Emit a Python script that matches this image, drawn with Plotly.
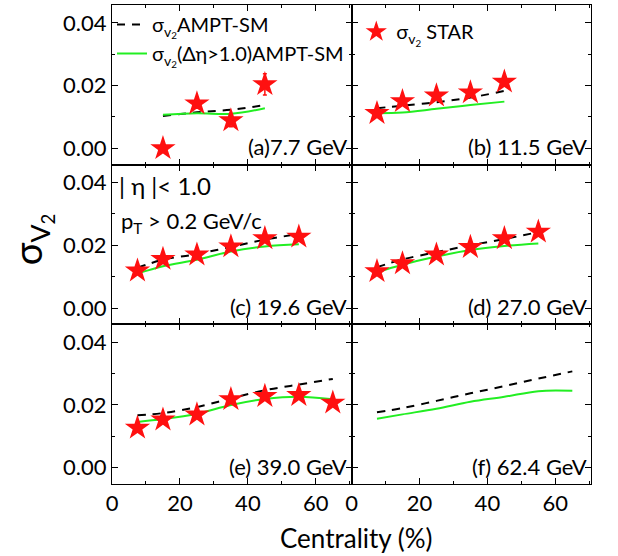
import plotly.graph_objects as go
from plotly.subplots import make_subplots

FONT = "Lato"

# ---------------- data ----------------
panel_labels = ["(a)7.7 GeV", "(b) 11.5 GeV", "(c) 19.6 GeV", "(d) 27.0 GeV", "(e) 39.0 GeV", "(f) 62.4 GeV"]

# AMPT-SM sigma_v2 (dashed)
ampt_x = [
    [15, 25, 35, 45],
    [7.5, 15, 25, 35, 45],
    [7.5, 15, 25, 35, 45, 55],
    [7.5, 15, 25, 35, 45, 55],
    [7.5, 15, 25, 35, 45, 55, 65],
    [7.5, 15, 25, 35, 45, 55, 65],
]
ampt_y = [
    [0.0103, 0.0115, 0.0123, 0.0138],
    [0.0128, 0.0136, 0.0147, 0.0162, 0.0183],
    [0.0128, 0.0154, 0.0172, 0.0195, 0.0218, 0.0236],
    [0.0130, 0.0155, 0.0178, 0.0200, 0.0220, 0.0242],
    [0.0167, 0.0174, 0.0193, 0.0221, 0.0247, 0.0265, 0.0283],
    [0.0177, 0.0190, 0.0213, 0.0237, 0.0260, 0.0284, 0.0307],
]
# AMPT-SM sigma_v2 (Delta eta > 1.0) (green)
gap_y = [
    [0.0107, 0.0112, 0.0110, 0.0128],
    [0.0112, 0.0114, 0.0126, 0.0138, 0.0149],
    [0.0110, 0.0133, 0.0154, 0.0180, 0.0196, 0.0203],
    [0.0114, 0.0138, 0.0164, 0.0185, 0.0198, 0.0206],
    [0.0146, 0.0155, 0.0172, 0.0200, 0.0219, 0.0226, 0.0218],
    [0.0156, 0.0170, 0.0188, 0.0210, 0.0226, 0.0244, 0.0245],
]
# STAR data
star_x = [
    [15, 25, 35, 45],
    [7.5, 15, 25, 35, 45],
    [7.5, 15, 25, 35, 45, 55],
    [7.5, 15, 25, 35, 45, 55],
    [7.5, 15, 25, 35, 45, 55, 65],
    [],
]
star_y = [
    [0.0000, 0.0143, 0.0089, 0.0204],
    [0.0112, 0.0150, 0.0168, 0.0178, 0.0212],
    [0.0119, 0.0156, 0.0170, 0.0196, 0.0222, 0.0227],
    [0.0117, 0.0142, 0.0170, 0.0194, 0.0222, 0.0243],
    [0.0127, 0.0153, 0.0169, 0.0218, 0.0228, 0.0231, 0.0207],
    [],
]
star_err = [
    [0.0010, 0.0015, 0.0020, 0.0034],
    [0.0005, 0.0005, 0.0005, 0.0005, 0.0008],
    [0.0003, 0.0003, 0.0003, 0.0003, 0.0004, 0.0005],
    [0.0003, 0.0003, 0.0003, 0.0003, 0.0004, 0.0005],
    [0.0003, 0.0003, 0.0003, 0.0003, 0.0004, 0.0005, 0.0008],
    [],
]

fig = make_subplots(rows=3, cols=2, horizontal_spacing=0, vertical_spacing=0,
                    shared_xaxes=True, shared_yaxes=True)

for i in range(6):
    r, c = i // 2 + 1, i % 2 + 1
    fig.add_trace(go.Scatter(x=ampt_x[i], y=ampt_y[i], mode="lines", line_shape="spline",
                             line=dict(color="black", width=2, dash="8px,7px"),
                             name="σ<sub>v<sub>2</sub></sub>AMPT-SM",
                             showlegend=(i == 0), legend="legend"), row=r, col=c)
    fig.add_trace(go.Scatter(x=ampt_x[i], y=gap_y[i], mode="lines", line_shape="spline",
                             line=dict(color="#22ee22", width=2),
                             name="σ<sub>v<sub>2</sub></sub>(Δη>1.0)AMPT-SM",
                             showlegend=(i == 0), legend="legend"), row=r, col=c)
    if star_x[i]:
        fig.add_trace(go.Scatter(x=star_x[i], y=star_y[i], mode="markers",
                                 marker=dict(symbol="star", size=19, color="#ff1010",
                                             line=dict(width=0)),
                                 error_y=dict(type="data", array=star_err[i], color="#ff1010",
                                              thickness=1.5, width=2),
                                 name="σ<sub>v<sub>2</sub></sub> STAR",
                                 showlegend=(i == 1), legend="legend2"), row=r, col=c)
    axn = "" if i == 0 else str(i + 1)
    fig.add_annotation(text=panel_labels[i], xref=f"x{axn} domain", yref=f"y{axn} domain",
                       x=0.99, y=0.015, xanchor="right", yanchor="bottom", showarrow=False,
                       font=dict(family=FONT, size=22, color="black"))

fig.add_annotation(text="| η |< 1.0", xref="x3 domain", yref="y3 domain", x=0.02, y=0.97,
                   xanchor="left", yanchor="top", showarrow=False,
                   font=dict(family=FONT, size=24, color="black"))
fig.add_annotation(text="p<sub>T</sub> > 0.2 GeV/c", xref="x3 domain", yref="y3 domain", x=0.03, y=0.75,
                   xanchor="left", yanchor="top", showarrow=False,
                   font=dict(family=FONT, size=22, color="black"))

axis_common = dict(showline=True, mirror="ticks", linecolor="black", linewidth=1,
                   ticks="inside", ticklen=6, tickwidth=1, tickcolor="black",
                   showgrid=False, zeroline=False,
                   tickfont=dict(family=FONT, size=22, color="black"))
fig.update_xaxes(range=[0, 70.5], dtick=20, tick0=0,
                 minor=dict(dtick=10, ticks="inside", ticklen=3, tickcolor="black"),
                 **axis_common)
fig.update_yaxes(range=[-0.0052, 0.0457], dtick=0.02, tick0=0, tickformat=".2f",
                 minor=dict(dtick=0.01, ticks="inside", ticklen=3, tickcolor="black"),
                 **axis_common)

fig.add_annotation(text="Centrality (%)", xref="paper", yref="paper", x=0.51, y=-0.112,
                   xanchor="center", yanchor="middle", showarrow=False,
                   font=dict(family=FONT, size=26, color="black"))
fig.add_annotation(text="σ<sub>V<sub>2</sub></sub>", xref="paper", yref="paper", x=-0.168, y=0.51,
                   xanchor="center", yanchor="middle", showarrow=False, textangle=-90,
                   font=dict(family=FONT, size=38, color="black"))

fig.update_layout(
    width=618, height=556,
    margin=dict(l=112, r=27, t=5, b=72),
    plot_bgcolor="white", paper_bgcolor="white",
    font=dict(family=FONT, color="black"),
    legend=dict(x=0.0, y=1.0, xanchor="left", yanchor="top", bgcolor="rgba(0,0,0,0)",
                font=dict(family=FONT, size=20, color="black"), itemwidth=30,
                tracegroupgap=0),
    legend2=dict(x=0.51, y=0.985, xanchor="left", yanchor="top", bgcolor="rgba(0,0,0,0)",
                 font=dict(family=FONT, size=20, color="black"), itemwidth=30),
)

fig.write_html("out.html")
